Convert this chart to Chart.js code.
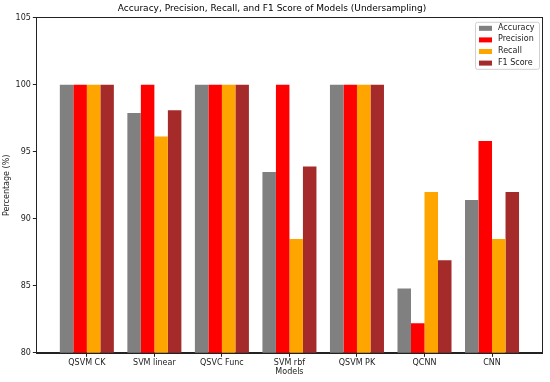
<!DOCTYPE html>
<html>
<head>
<meta charset="utf-8">
<script src="https://cdn.jsdelivr.net/npm/chart.js@4/dist/chart.umd.min.js"></script>
<style>
  html, body { margin: 0; padding: 0; background: #fff; }
  #wrap { width: 550px; height: 382px; }
</style>
</head>
<body>
<div id="wrap"><canvas id="chart" width="550" height="382"></canvas></div>
<script>
// Data
const models = ['QSVM CK', 'SVM linear', 'QSVC Func', 'SVM rbf', 'QSVM PK', 'QCNN', 'CNN'];
const accuracy  = [100, 97.9, 100, 93.5, 100, 84.8, 91.4];
const precision = [100, 100, 100, 100, 100, 82.2, 95.8];
const recall    = [100, 96.15, 100, 88.5, 100, 92.0, 88.5];
const f1score   = [100, 98.1, 100, 93.9, 100, 86.9, 92.0];
const yTicks = [80, 85, 90, 95, 100, 105];

const FONT = 'DejaVu Sans';

function pts(arr) {
  return arr.map((v, i) => ({ x: i, y: v }));
}

// legend box in the top right corner of the plot
const boxLegend = {
  id: 'boxLegend',
  afterDraw(chart) {
    const ctx = chart.ctx;
    const a = chart.chartArea;
    const sets = chart.data.datasets;
    const w = 64, rowH = 11.6;
    const h = 47;
    const x0 = a.right - w - 3, y0 = a.top + 4;
    ctx.save();
    ctx.fillStyle = 'rgba(255,255,255,0.8)';
    ctx.strokeStyle = '#d0d0d0';
    ctx.lineWidth = 1;
    ctx.beginPath();
    ctx.roundRect(x0 + 0.5, y0 + 0.5, w, h, 2);
    ctx.fill();
    ctx.stroke();
    ctx.font = '8px ' + FONT;
    ctx.textBaseline = 'middle';
    sets.forEach((ds, i) => {
      const cy = y0 + 6 + rowH * i;
      ctx.fillStyle = ds.backgroundColor;
      ctx.fillRect(x0 + 4, cy - 2, 13, 5);
      ctx.fillStyle = '#222';
      ctx.fillText(ds.label, x0 + 23, cy);
    });
    ctx.restore();
  }
};

// matplotlib-style frame
const frame = {
  id: 'frame',
  afterDatasetsDraw(chart) {
    const ctx = chart.ctx, a = chart.chartArea;
    ctx.save();
    ctx.strokeStyle = '#222';
    ctx.lineWidth = 1;
    ctx.strokeRect(Math.round(a.left) - 0.5, Math.round(a.top) - 0.5,
      Math.round(a.right - a.left) + 1, Math.round(a.bottom - a.top) + 1);
    ctx.restore();
  }
};

new Chart(document.getElementById('chart'), {
  type: 'bar',
  data: {
    datasets: [
      { label: 'Accuracy',  data: pts(accuracy),  backgroundColor: '#808080' },
      { label: 'Precision', data: pts(precision), backgroundColor: '#ff0000' },
      { label: 'Recall',    data: pts(recall),    backgroundColor: '#ffa500' },
      { label: 'F1 Score',  data: pts(f1score),   backgroundColor: '#a52a2a' }
    ]
  },
  options: {
    responsive: false,
    animation: false,
    layout: { padding: { left: 2, right: 8, top: 0, bottom: 3 } },
    datasets: { bar: { categoryPercentage: 0.8, barPercentage: 1.0, borderWidth: 0 } },
    plugins: {
      legend: { display: false },
      tooltip: { enabled: false },
      title: {
        display: true,
        text: 'Accuracy, Precision, Recall, and F1 Score of Models (Undersampling)',
        color: '#000',
        font: { family: FONT, size: 9, weight: 'normal' },
        padding: { top: 3, bottom: 4 }
      }
    },
    scales: {
      x: {
        type: 'linear',
        offset: false,
        min: -0.74,
        max: 6.74,
        afterBuildTicks: s => { s.ticks = models.map((m, i) => ({ value: i })); },
        ticks: {
          callback: v => models[v],
          color: '#222',
          font: { family: FONT, size: 8 },
          maxRotation: 0,
          autoSkip: false,
          padding: 1
        },
        grid: { drawOnChartArea: false, offset: false, tickLength: 4, color: '#222' },
        border: { color: '#222' },
        title: { display: true, text: 'Models', color: '#222', font: { family: FONT, size: 8 }, padding: { top: -1, bottom: 2 } }
      },
      y: {
        min: 80,
        max: 105,
        afterBuildTicks: s => { s.ticks = yTicks.map(v => ({ value: v })); },
        ticks: { color: '#222', font: { family: FONT, size: 8 }, padding: 2 },
        grid: { drawOnChartArea: false, tickLength: 4, color: '#222' },
        border: { color: '#222' },
        title: { display: true, text: 'Percentage (%)', color: '#222', font: { family: FONT, size: 8 }, padding: { top: 0, bottom: 2 } }
      }
    }
  },
  plugins: [frame, boxLegend]
});
</script>
</body>
</html>
